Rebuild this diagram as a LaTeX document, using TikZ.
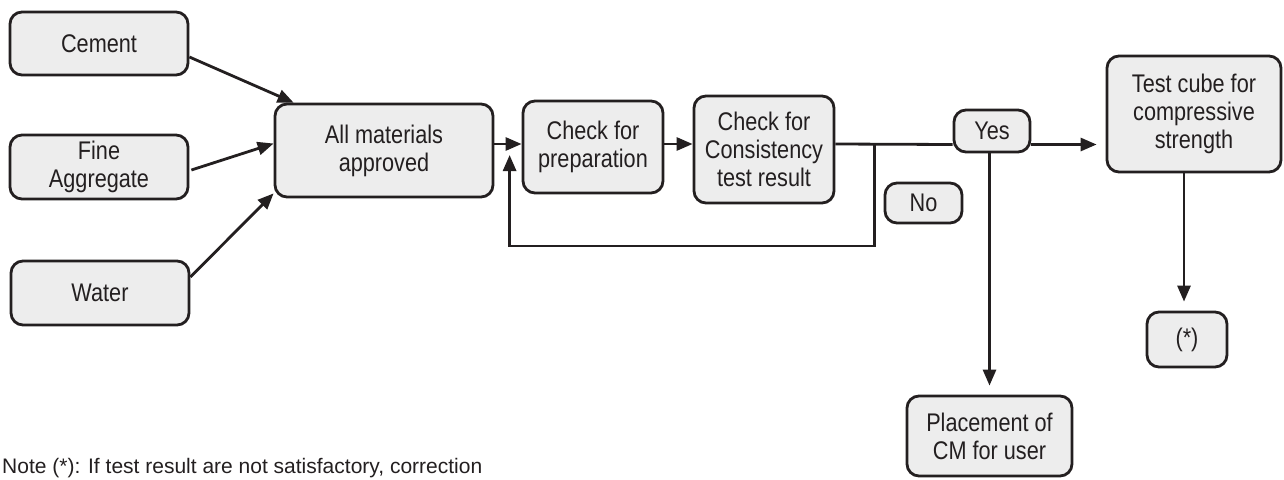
\documentclass[tikz,border=0pt]{standalone}
\usepackage{fontspec}
\setmainfont{Liberation Sans}[FakeStretch=0.85]
\newfontfamily\notefont{Liberation Sans}
\usetikzlibrary{arrows.meta,calc,backgrounds}
\definecolor{ink}{HTML}{231F20}
\definecolor{boxfill}{HTML}{EDEDED}
\tikzset{
  box/.style={draw=ink, fill=boxfill, line width=2.8pt, rounded corners=12pt,
    align=center, text=ink, inner sep=0pt,
    font=\fontsize{25.5}{28}\selectfont},
  arr/.style={draw=ink, line width=2.8pt,
    -{Triangle[length=16pt,width=13pt]}},
  plain/.style={draw=ink, line width=2.8pt},
}
\begin{document}
\begin{tikzpicture}[x=1pt,y=-1pt]
\useasboundingbox (0,0) rectangle (1284,479);

% material inputs
\node[box, minimum width=178pt, minimum height=63pt] (cement) at (99,43.5) {Cement};
\node[box, minimum width=178pt, minimum height=64pt] (fine) at (99,167) {Fine\\Aggregate};
\node[box, minimum width=178pt, minimum height=64pt] (water) at (100,293) {Water};

% main process chain
\node[box, minimum width=218pt, minimum height=93pt] (allmat) at (384,150.5) {All materials\\approved};
\node[box, minimum width=140pt, minimum height=92pt] (prep) at (593,147) {Check for\\preparation};
\node[box, minimum width=140pt, minimum height=107pt] (cons) at (764,149.5) {Check for\\Consistency\\test result};

% decision labels
\node[box, minimum width=76pt, minimum height=42pt] (yes) at (992,131) {Yes};
\node[box, minimum width=77pt, minimum height=40pt] (no) at (923.5,203) {No};

% outcomes
\node[box, minimum width=174pt, minimum height=116pt] (test) at (1194,114) {Test cube for\\compressive\\strength};
\node[box, minimum width=80pt, minimum height=55pt] (star) at (1187,339.5) {(*)};
\node[box, minimum width=165pt, minimum height=80pt] (place) at (989.5,436) {Placement of\\CM for user};

% footnote
\node[anchor=base west, inner sep=0pt, text=ink, font=\notefont\fontsize{21}{26}\selectfont]
  (note) at (2,473) {Note (*): If test result are not satisfactory, correction};

\begin{scope}[on background layer]
  \draw[arr] ($(cement.east)+(0,13.5)$) -- ($(allmat.north west)+(20,0)$);
  \draw[arr] ($(fine.east)+(2,3)$) -- ($(allmat.west)+(0,-7)$);
  \draw[arr] ($(water.east)+(0,-16)$) -- ($(allmat.south west)+(0,-5)$);
  \draw[arr] ($(allmat.east)+(0,-6.5)$) -- ($(prep.west)+(0,-3)$);
  \draw[arr] ($(prep.east)+(0,-3)$) -- ($(cons.west)+(0,-5.5)$);
  \coordinate (fb) at ($(cons.east)+(39,-5.5)$);
  \draw[plain] ($(cons.east)+(0,-5.5)$) -- ($(yes.west)+(0,13.5)$);
  \draw[arr] (fb) -- ++(0,102) -| ($(prep.west)+(-12,8)$);
  \draw[arr] ($(yes.east)+(0,13.5)$) -- ($(test.west)+(-9,30.5)$);
  \draw[arr] (place.north |- yes.south) -- ($(place.north)+(0,-9)$);
  \draw[arr] ($(test.south)+(-10,0)$) -- ($(star.north)+(-3,-9)$);
\end{scope}
\end{tikzpicture}
\end{document}
